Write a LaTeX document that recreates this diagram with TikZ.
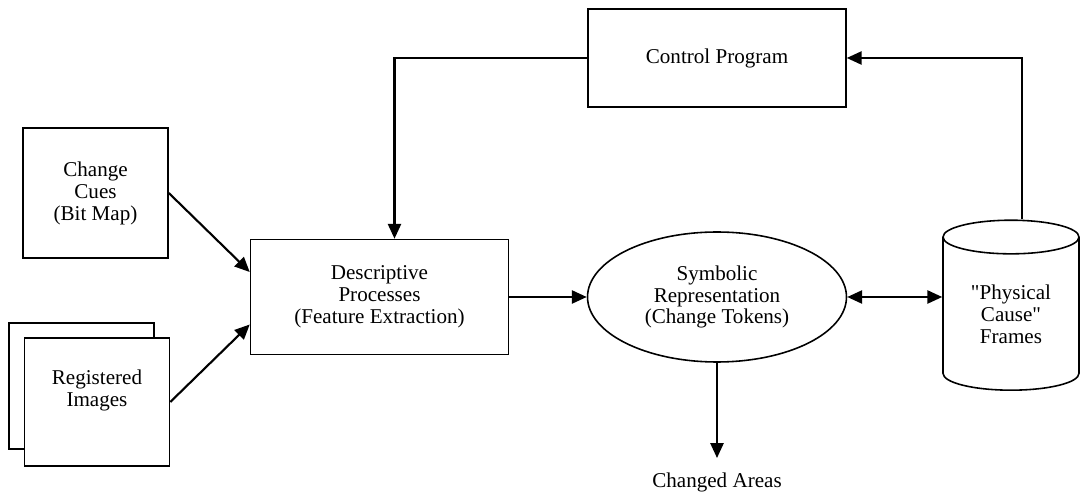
\documentclass[tikz,border=0pt]{standalone}
\usepackage{fontspec}
\setmainfont{Liberation Serif}
\usetikzlibrary{positioning,arrows.meta,shapes.geometric}

\begin{document}
\begin{tikzpicture}[x=0.02cm,y=-0.02cm,font=\fontsize{12}{12.5}\selectfont]
  \tikzset{
    box/.style={draw,line width=0.9pt,align=center,inner sep=0pt},
    inbox/.style={box,fill=white,minimum width=2.9cm},
    proc/.style={box,minimum width=5.16cm},
    store/.style={box,cylinder,shape border rotate=90,aspect=0.42,minimum width=2.72cm,minimum height=3.4cm},
    flow/.style={->,line width=1.2pt},
    >={Triangle[length=8.5pt,width=7.5pt]}
  }
  \useasboundingbox (0,0) rectangle (1081,492);
  \node[proc,minimum height=1.96cm] (ctrl) at (717,58) {Control Program};
  \node[inbox,minimum height=2.6cm] (cues) at (95.5,193) {Change\\Cues\\(Bit Map)};
  \node[inbox,minimum height=2.52cm] (regback) at (81.5,386) {};
  \node[inbox,minimum height=2.56cm,text depth=0.55cm] (reg) at (97,402) {Registered\\Images};
  \node[proc,minimum height=2.3cm] (desc) at (379.5,297)
     {Descriptive\\Processes\\(Feature Extraction)};
  \node[box,ellipse,minimum width=5.18cm,minimum height=2.6cm] (sym) at (717,297)
     {Symbolic\\Representation\\(Change Tokens)};
  \node[store] (frames) at (1011,314) {\textquotedbl Physical\\Cause\textquotedbl\\Frames};
  \node[inner sep=0pt] (areas) at (717,482) {Changed Areas};
  % connectors
  \draw[flow] (ctrl.west) -| ([xshift=0.3cm]desc.north);
  \draw[flow] ([xshift=0.22cm]frames.north) |- (ctrl.east);
  \draw[flow] (cues.east) -- ([yshift=0.5cm]desc.west);
  \draw[flow] (reg.east) -- ([yshift=-0.55cm]desc.west);
  \draw[flow] (desc) -- (sym);
  \draw[flow,<->] (sym.east) -- (sym.east -| frames.west);
  \draw[flow,shorten >=8pt] (sym) -- (areas);
\end{tikzpicture}
\end{document}
